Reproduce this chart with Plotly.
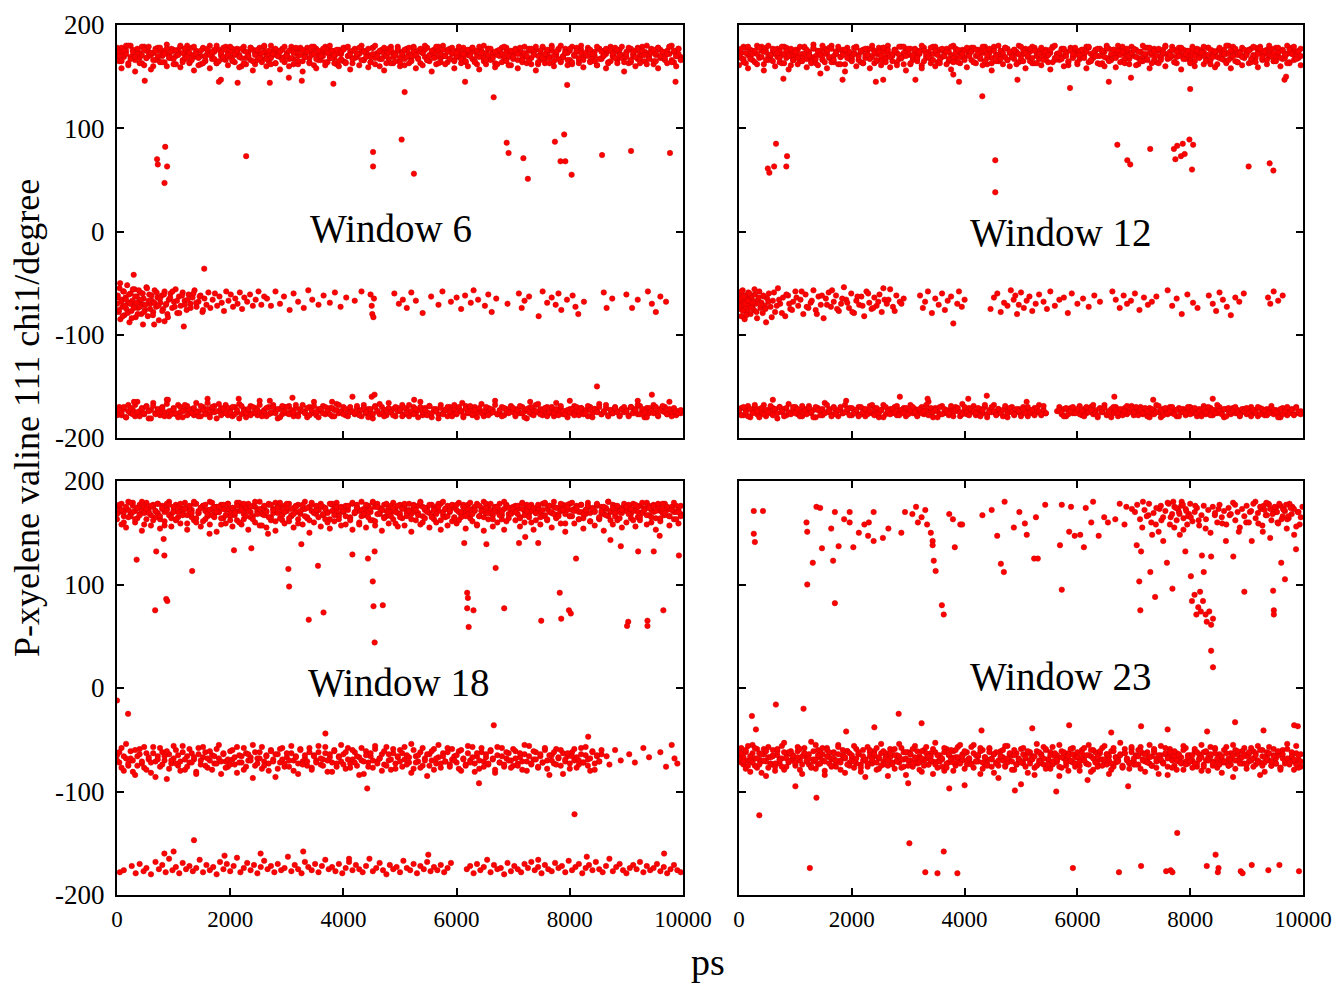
import plotly.graph_objects as go

# ---------------- shared time axis of the trajectory frames (ps) ----------------
TIME_PS = [0,40,80,120,160,200,240,280,320,360,400,440,480,520,560,600,640,680,720,760,800,840,880,920,960,
1000,1040,1080,1120,1160,1200,1240,1280,1320,1360,1400,1440,1480,1520,1560,1600,1640,1680,1720,1760,1800,1840,1880,1920,1960,
2000,2040,2080,2120,2160,2200,2240,2280,2320,2360,2400,2440,2480,2520,2560,2600,2640,2680,2720,2760,2800,2840,2880,2920,2960,
3000,3040,3080,3120,3160,3200,3240,3280,3320,3360,3400,3440,3480,3520,3560,3600,3640,3680,3720,3760,3800,3840,3880,3920,3960,
4000,4040,4080,4120,4160,4200,4240,4280,4320,4360,4400,4440,4480,4520,4560,4600,4640,4680,4720,4760,4800,4840,4880,4920,4960,
5000,5040,5080,5120,5160,5200,5240,5280,5320,5360,5400,5440,5480,5520,5560,5600,5640,5680,5720,5760,5800,5840,5880,5920,5960,
6000,6040,6080,6120,6160,6200,6240,6280,6320,6360,6400,6440,6480,6520,6560,6600,6640,6680,6720,6760,6800,6840,6880,6920,6960,
7000,7040,7080,7120,7160,7200,7240,7280,7320,7360,7400,7440,7480,7520,7560,7600,7640,7680,7720,7760,7800,7840,7880,7920,7960,
8000,8040,8080,8120,8160,8200,8240,8280,8320,8360,8400,8440,8480,8520,8560,8600,8640,8680,8720,8760,8800,8840,8880,8920,8960,
9000,9040,9080,9120,9160,9200,9240,9280,9320,9360,9400,9440,9480,9520,9560,9600,9640,9680,9720,9760,9800,9840,9880,9920,9960]

X_TICKS = [0, 2000, 4000, 6000, 8000, 10000]
X_TICK_TEXT = ["0", "2000", "4000", "6000", "8000", "10000"]
Y_TICKS = [-200, -100, 0, 100, 200]
Y_TICK_TEXT = ["-200", "-100", "0", "100", "200"]

# ============================ Window 6 ============================
w6_top_a = [172,165,178,169,175,161,180,170,166,176,173,163,179,168,174,171,160,177,167,175,170,164,181,172,168,
176,162,173,179,166,171,175,163,178,169,174,161,170,177,165,172,180,167,174,163,176,170,178,166,173,
169,177,164,175,171,160,179,168,173,166,176,162,172,178,167,174,170,165,180,171,163,175,169,177,164,
173,167,179,162,175,170,176,165,172,178,168,174,161,177,171,166,173,179,164,170,175,168,162,176,172,
165,178,170,174,163,177,169,172,180,166,175,171,164,178,168,173,160,176,170,174,167,179,163,171,175,
168,174,161,177,172,166,179,170,175,163,173,169,178,165,171,176,162,174,168,180,170,164,177,172,166,
175,169,173,178,164,171,176,167,174,162,179,170,165,173,177,168,172,163,175,170,178,166,174,169,161,
172,177,166,174,170,179,163,175,168,173,176,162,171,178,167,174,169,180,165,172,176,164,170,177,173,
166,179,171,174,163,176,169,172,178,165,173,170,161,177,168,175,172,164,179,170,174,166,176,171,168,
174,163,177,170,175,167,172,179,165,173,169,176,162,171,178,168,174,166,175,172,180,164,170,177,169]
w6_top_b = [166,174,158,171,180,163,169,176,155,172,168,179,161,175,170,157,173,166,178,164,171,175,160,168,177,
162,170,176,159,173,167,180,164,171,156,175,169,162,178,166,173,158,170,176,163,145,172,167,179,161,
174,165,171,177,159,168,175,162,170,178,156,173,166,171,164,179,160,172,168,175,163,170,157,176,169,
171,160,176,167,173,162,178,155,169,174,164,171,179,158,166,173,170,161,177,168,175,163,172,160,167,
178,164,170,157,175,168,172,161,176,166,173,159,169,178,162,171,167,174,156,170,177,163,173,165,179,
160,172,167,175,163,170,178,158,168,174,161,176,166,171,155,173,169,179,164,170,162,176,167,173,158,
170,176,163,169,174,160,172,178,165,170,157,175,168,162,177,166,173,159,171,175,164,169,178,161,172,
167,173,158,176,164,171,169,177,162,174,156,170,166,179,163,172,168,175,160,171,177,165,169,174,161,
175,162,170,178,166,173,159,171,176,164,169,174,161,177,167,172,158,175,165,170,178,163,171,168,155,
169,176,164,172,160,178,167,171,174,162,170,177,165,173,158,176,168,171,163,179,166,174,160,172,167]
w6_top_c = [178,170,165,175,172,180,167,174,169,177,163,171,176,168,179,173,166,175,170,178,164,172,177,169,174,
167,175,171,180,164,177,169,173,166,179,172,168,175,163,170,177,171,174,167,180,165,173,169,176,171,
179,166,172,175,169,177,163,174,170,178,165,171,176,168,173,180,167,175,162,172,177,170,174,166,179,
170,175,168,173,178,165,171,176,169,174,163,179,172,167,175,170,177,164,173,180,168,171,176,165,174,
176,163,179,171,167,175,172,178,166,174,169,177,164,172,180,170,175,167,178,163,173,176,169,171,177,
164,172,176,169,178,165,174,171,167,177,173,180,166,170,175,168,179,163,172,176,170,174,167,178,165,
173,179,167,172,165,176,170,178,164,175,169,173,180,166,171,177,168,174,162,176,172,179,165,170,175,
169,176,172,178,166,173,170,165,177,171,179,164,175,168,172,176,163,178,170,174,167,180,169,173,166,
177,164,171,175,168,180,166,173,170,176,172,165,179,167,174,170,177,163,175,172,168,176,171,179,164,
172,178,166,174,169,177,163,175,171,180,167,173,176,165,178,170,174,168,172,179,164,175,170,177,166]
w6_top_stray_t = [490,1836,2131,2700,3036,3265,3823,5082,6150,6655,7954,9868]
w6_top_stray_v = [146,147,144,144,149,146,143,135,145,130,142,145]
w6_out_t = [852,708,721,885,839,2282,4524,4524,5029,5246,6885,6918,7180,7259,7737,7901,7836,7921,8032,8570,9082,9770]
w6_out_v = [82,70,65,63,47,73,77,63,89,56,86,76,71,51,87,94,68,68,55,74,78,76]
w6_mid_t = [0,15,30,45,60,80,95,110,130,150,165,180,200,220,240,255,270,290,310,330,350,370,390,410,430,450,470,495,520,545,
570,590,615,640,665,690,715,740,765,790,815,840,865,890,915,945,975,1005,1035,1065,1095,1125,1160,1195,1230,1265,1300,1335,1370,1405,
1440,1475,1510,1545,1580,1615,1650,1690,1730,1770,1810,1850,1890,1930,1970,2010,2050,2090,2130,2170,2210,2250,2300,2350,2400,2450,2500,2550,2600,
10,35,55,75,100,120,140,160,190,210,230,260,280,300,320,345,365,385,405,425,455,480,505,530,560,585,610,635,660,700,
730,760,800,830,870,900,940,980,1020,1060,1100,1150,1200,1250,1300,1350,1400,1460,1520,
2650,2720,2800,2880,2950,3050,3120,3200,3300,3380,3450,3560,3650,3760,3850,3950,4050,4200,4320,4480,
4500,4510,4530,4540,4900,4980,5050,5120,5200,5280,5400,5550,5680,5750,5900,6000,6080,6150,6250,6300,
6380,6500,6560,6620,6700,6900,7100,7150,7200,7280,7450,7520,7600,7680,7750,7800,7850,7950,8050,8100,
8150,8250,8600,8650,8750,9000,9100,9200,9380,9450,9520,9600,9700,295,1541,1180,656,459,840]
w6_mid_v = [-70,-62,-78,-55,-85,-66,-73,-58,-81,-64,-75,-52,-69,-88,-60,-77,-67,-72,-56,-83,-63,-74,-68,-59,-80,-71,-65,-76,-54,-82,
-61,-70,-67,-78,-57,-73,-64,-86,-69,-62,-75,-58,-71,-80,-66,-60,-74,-68,-56,-79,-63,-72,-59,-67,-76,-61,-70,-64,-57,-73,
-68,-62,-78,-65,-71,-59,-74,-66,-60,-72,-63,-69,-77,-58,-67,-61,-73,-65,-70,-59,-75,-64,-68,-61,-72,-66,-58,-71,-63,
-64,-76,-50,-68,-82,-58,-72,-66,-79,-61,-70,-84,-56,-74,-63,-69,-80,-57,-73,-66,-60,-78,-71,-55,-67,-75,-62,-81,-69,-59,
-72,-65,-77,-61,-70,-83,-64,-58,-73,-67,-79,-62,-71,-66,-74,-60,-69,-63,-76,
-65,-72,-58,-70,-63,-76,-60,-68,-74,-57,-66,-71,-62,-69,-59,-73,-64,-67,-58,-61,
-72,-80,-83,-65,-60,-70,-66,-74,-59,-67,-79,-63,-71,-58,-68,-64,-75,-62,-69,-57,
-66,-72,-61,-78,-65,-70,-60,-74,-67,-63,-82,-58,-69,-64,-71,-60,-76,-66,-62,-73,
-80,-68,-59,-74,-65,-61,-74,-66,-58,-70,-78,-63,-68,-42,-36,-92,-90,-90,-87]
w6_low_a = [-175,-170,-178,-172,-180,-168,-176,-173,-179,-165,-174,-171,-177,-169,-181,-173,-166,-176,-172,-178,-170,-175,-163,-179,-174,
-171,-177,-168,-175,-180,-173,-169,-176,-172,-178,-166,-174,-179,-170,-175,-162,-177,-173,-169,-181,-174,-171,-176,-168,-178,
-173,-179,-170,-175,-167,-177,-172,-180,-174,-169,-176,-171,-178,-164,-175,-173,-179,-170,-176,-168,-174,-181,-172,-177,-170,
-176,-169,-174,-179,-171,-177,-173,-168,-175,-180,-170,-176,-165,-178,-172,-174,-169,-177,-175,-171,-179,-173,-167,-176,-174,
-170,-178,-173,-175,-160,-177,-171,-174,-179,-168,-176,-172,-175,-181,-169,-174,-177,-170,-173,-178,-166,-175,-172,-179,-171,
-174,-168,-177,-172,-179,-175,-170,-176,-173,-165,-178,-171,-175,-169,-180,-174,-172,-177,-168,-176,-173,-179,-170,-175,-172,
-177,-171,-174,-180,-169,-176,-173,-178,-170,-175,-172,-167,-179,-174,-171,-176,-173,-164,-177,-175,-170,-178,-172,-174,-169,
-175,-179,-172,-176,-170,-174,-181,-171,-177,-173,-168,-175,-172,-178,-174,-170,-176,-173,-179,-166,-175,-171,-177,-174,-180,
-172,-176,-169,-174,-178,-171,-175,-173,-179,-170,-176,-172,-174,-167,-177,-175,-171,-178,-173,-176,-170,-174,-179,-172,-175,
-173,-178,-170,-175,-172,-177,-169,-174,-180,-171,-176,-173,-168,-175,-179,-172,-174,-170,-177,-165,-175,-172,-178,-174,-176]
w6_low_b = [-178,-173,-176,-170,-180,-174,-171,-177,-168,-175,-179,-172,-176,-170,-174,-181,-169,-177,-173,-175,-171,-179,-167,-174,-177,
-172,-176,-180,-170,-174,-168,-178,-173,-176,-171,-175,-179,-169,-173,-177,-172,-180,-170,-175,-174,-167,-178,-172,-176,-171,
-175,-170,-177,-173,-181,-169,-174,-176,-172,-178,-170,-175,-173,-168,-179,-174,-171,-177,-175,-170,-176,-172,-180,-169,-174,
-170,-177,-173,-175,-168,-179,-172,-174,-176,-171,-178,-173,-169,-175,-180,-172,-176,-170,-174,-177,-171,-179,-173,-168,-175,
-177,-172,-179,-170,-174,-176,-169,-178,-173,-171,-175,-180,-172,-177,-170,-174,-167,-176,-179,-173,-171,-175,-178,-170,-174,
-173,-179,-171,-176,-168,-174,-177,-172,-180,-170,-175,-173,-178,-169,-176,-172,-174,-181,-171,-177,-173,-170,-175,-179,-168,
-176,-170,-174,-178,-172,-175,-169,-177,-173,-180,-171,-176,-174,-170,-178,-172,-175,-168,-177,-173,-179,-171,-174,-176,-170,
-171,-177,-173,-169,-176,-180,-172,-175,-170,-178,-174,-167,-177,-173,-171,-179,-175,-170,-176,-172,-178,-169,-174,-177,-173,
-175,-172,-178,-170,-174,-171,-177,-176,-169,-173,-180,-172,-175,-170,-177,-174,-168,-179,-173,-176,-171,-175,-178,-172,-170,
-174,-179,-170,-176,-173,-168,-177,-172,-175,-180,-171,-174,-176,-170,-178,-173,-169,-175,-177,-172,-179,-171,-174,-176,-173]
w6_low_extra_t = [300,900,1600,2150,2700,3100,3800,4500,4550,5250,6100,7300,8000,8480,9200,9450]
w6_low_extra_v = [-165,-163,-166,-162,-164,-161,-165,-160,-158,-163,-166,-165,-164,-150,-164,-158]

# ============================ Window 12 ============================
w12_top_a = [174,168,179,163,171,176,166,173,180,169,175,162,178,170,167,174,172,177,164,171,179,168,175,161,173,
170,176,165,172,178,167,174,169,181,163,175,171,166,177,173,168,180,164,172,176,169,174,162,178,170,
167,173,179,171,164,176,168,175,170,177,163,172,178,166,174,169,180,171,165,176,173,167,179,162,175,
171,177,166,173,168,175,161,178,170,174,167,172,179,164,176,169,173,177,165,171,180,168,174,163,176,
169,175,172,178,164,170,176,167,173,179,162,174,168,177,171,165,175,170,178,166,173,169,176,172,180,
165,172,177,169,174,163,178,171,167,175,170,176,164,173,179,168,172,166,177,170,174,161,178,169,175,
173,167,176,171,179,164,172,168,175,170,177,163,174,180,166,171,176,169,173,178,165,172,175,167,179,
170,176,162,174,169,178,166,173,171,177,164,175,168,172,180,167,174,170,176,163,178,171,169,175,172,
168,179,165,173,176,170,174,167,178,162,175,171,169,177,173,166,172,180,168,174,176,164,171,178,170,
175,163,177,171,168,174,179,166,172,176,169,173,165,178,170,175,167,172,180,164,176,171,174,168,177]
w12_top_b = [161,173,167,178,158,170,175,164,172,168,179,156,174,166,171,177,160,169,175,163,172,178,157,170,166,
176,162,171,168,179,159,173,165,177,170,161,175,167,172,158,178,164,170,174,162,169,176,155,173,167,
170,178,160,166,174,163,171,177,158,169,175,165,172,161,178,167,173,159,170,176,164,171,168,179,156,
174,162,169,177,165,172,158,175,168,171,163,179,160,173,166,176,170,162,174,157,168,177,164,172,169,
175,159,171,166,178,163,170,174,161,176,168,173,156,179,165,171,175,162,169,177,160,173,167,174,164,
168,176,158,172,165,179,163,170,175,161,174,167,171,157,178,166,172,169,176,160,173,164,177,168,171,
162,175,169,173,158,178,165,171,176,163,170,174,160,168,177,166,172,159,175,164,179,167,170,162,173,
177,161,168,174,165,171,178,158,173,166,175,163,170,176,160,172,168,179,164,169,174,157,176,167,171,
165,173,160,177,169,174,162,171,178,166,172,159,175,168,170,176,163,173,158,179,165,171,174,161,168,
172,176,164,170,178,159,173,167,175,162,171,177,165,169,174,160,176,168,172,163,178,166,170,175,161]
w12_top_c = [170,177,164,173,179,167,172,175,162,178,169,174,166,180,171,165,176,173,168,179,163,175,170,177,166,
174,168,179,165,172,176,170,163,178,167,174,171,180,164,175,169,177,166,173,179,162,171,176,168,174,
165,172,178,169,175,163,177,171,167,180,173,166,174,170,178,164,176,169,172,175,161,179,168,173,170,
177,163,171,176,168,174,180,165,172,169,178,166,175,171,163,177,170,174,167,179,164,173,176,169,172,
166,178,170,174,164,176,172,168,179,165,171,177,163,175,170,180,167,173,178,166,174,169,176,162,172,
179,165,173,170,177,168,175,163,172,178,166,174,171,176,164,180,169,173,167,177,170,165,175,172,178,
164,171,176,168,174,179,166,173,170,177,162,175,169,178,165,172,176,168,180,171,174,163,177,170,173,
176,169,174,165,180,172,167,178,163,175,170,177,166,173,179,168,171,176,164,174,170,178,167,172,175,
163,177,170,175,168,173,179,165,171,176,169,174,162,178,167,172,180,166,175,170,177,164,173,169,176,
171,175,167,179,164,172,177,169,174,166,180,170,173,165,178,168,175,171,163,176,172,179,167,174,170]
w12_top_stray_t = [787,1836,2426,2557,3128,3901,4314,4937,5869,6557,6950,8000,9672,3800,1443,9700]
w12_top_stray_v = [148,147,145,147,147,145,131,147,139,145,149,138,147,152,153,150]
w12_out_t = [656,852,511,538,623,839,4544,4544,6708,6885,6937,7291,7711,7770,7868,7986,8052,7737,7836,7901,8032,9036,9409,9475]
w12_out_v = [85,73,61,57,63,63,69,38,84,69,65,80,80,83,85,89,84,70,73,75,60,63,66,59]
w12_mid_t = [0,10,20,30,40,55,65,75,90,100,115,125,140,150,165,180,190,205,220,235,250,265,280,300,320,340,360,380,400,420,440,460,480,500,
530,560,600,640,690,730,780,820,870,910,960,1000,1050,1090,1140,1180,1230,1270,1320,1360,1410,1450,1500,1540,1590,1630,
1680,1720,1770,1810,1860,1900,1950,1990,2040,2080,2130,2170,2220,2260,2310,2350,2400,2440,2490,2530,2580,2620,2680,2730,2790,2850,2920,
5,25,45,70,85,110,130,160,185,215,245,275,310,350,390,430,470,520,580,620,670,710,760,840,890,940,1020,1110,1200,1290,
1380,1470,1560,1650,1740,1830,1920,2010,2100,2190,2290,2380,2470,2560,2650,2760,2880,
3210,3260,3300,3350,3420,3480,3540,3600,3650,3700,3760,3800,3870,3900,3950,4000,
4460,4520,4580,4640,4700,4760,4820,4870,4900,4930,4960,5000,5050,5100,5150,5200,5260,5320,5400,5460,
5520,5600,5680,5760,5830,5900,6000,6100,6200,6300,6400,
6620,6680,6750,6820,6880,6950,7020,7100,7180,7250,7320,7400,
7600,7680,7760,7850,7950,8050,8130,8330,8400,8460,8520,8580,8650,8720,8800,8870,8950,9380,9420,9480,9560,9640]
w12_mid_v = [-68,-60,-75,-64,-82,-70,-57,-72,-66,-85,-62,-74,-69,-78,-59,-71,-65,-80,-63,-73,-67,-76,-61,-70,-84,-66,-58,-74,-69,-79,-63,-72,-88,-65,
-60,-73,-67,-78,-55,-70,-64,-82,-62,-75,-68,-58,-72,-66,-80,-61,-74,-69,-57,-76,-63,-71,-84,-65,-59,-73,
-68,-62,-77,-70,-54,-66,-74,-60,-79,-67,-71,-63,-82,-58,-69,-75,-64,-72,-61,-78,-66,-70,-56,-73,-62,-68,-65,
-72,-65,-58,-77,-63,-70,-81,-67,-60,-74,-69,-56,-78,-64,-71,-62,-75,-68,-83,-59,-72,-66,-79,-61,-70,-76,-64,-58,-73,-67,
-80,-62,-71,-57,-75,-65,-69,-78,-63,-72,-60,-74,-68,-55,-66,-77,-70,
-62,-74,-68,-58,-79,-65,-71,-60,-76,-67,-63,-89,-70,-58,-73,-66,
-75,-64,-60,-78,-69,-72,-57,-66,-62,-80,-71,-59,-74,-67,-63,-77,-70,-61,-68,-75,
-58,-72,-66,-64,-79,-60,-70,-65,-73,-62,-68,
-58,-66,-74,-62,-70,-67,-60,-76,-64,-71,-68,-63,
-57,-72,-65,-80,-61,-69,-74,-62,-70,-77,-59,-66,-73,-81,-64,-68,-60,-64,-70,-58,-67,-62]
w12_low_a = [-176,-171,-178,-173,-169,-180,-174,-170,-177,-172,-175,-168,-179,-173,-176,-171,-174,-181,-170,-175,-172,-178,-167,-176,-173,
-170,-177,-174,-179,-172,-175,-169,-176,-173,-180,-171,-174,-178,-166,-175,-172,-177,-170,-174,-179,-173,-176,-168,-175,-171,
-178,-173,-175,-170,-177,-172,-179,-174,-169,-176,-171,-175,-180,-173,-168,-177,-174,-172,-176,-170,-178,-173,-175,-171,-179,
-174,-168,-176,-172,-178,-175,-170,-177,-173,-165,-175,-180,-171,-174,-177,-169,-176,-173,-178,-172,-175,-170,-174,-179,-167,
-173,-177,-171,-175,-169,-178,-174,-172,-176,-170,-180,-173,-175,-168,-177,-172,-174,-179,-171,-176,-173,-170,-178,-175,-172,
-177,-170,-174,-179,-173,-176,-171,-175,-168,-178,-173,-176,None,None,None,None,-174,-170,-177,-172,-179,-174,-171,-176,-173,
-175,-169,-178,-172,-176,-174,-170,-177,-173,-180,-171,-175,-168,-178,-174,-172,-176,-170,-179,-173,-175,-171,-177,-174,-169,
-178,-172,-175,-170,-177,-174,-179,-171,-176,-173,-168,-175,-180,-172,-174,-177,-170,-176,-173,-179,-171,-175,-172,-178,-174,
-170,-176,-173,-179,-172,-175,-169,-177,-174,-171,-178,-173,-176,-170,-175,-180,-172,-174,-177,-171,-176,-173,-179,-175,-172,
-177,-174,-170,-176,-173,-179,-171,-175,-178,-172,-174,-169,-177,-173,-176,-180,-171,-175,-178,-174,-172,-177,-170,-176,-174]
w12_low_b = [-173,-178,-170,-175,-179,-172,-176,-168,-174,-180,-171,-177,-173,-175,-169,-178,-172,-176,-170,-174,-179,-171,-175,-177,-170,
-176,-172,-179,-169,-174,-177,-171,-175,-180,-170,-173,-178,-172,-176,-168,-174,-179,-171,-177,-173,-170,-176,-175,-172,-178,
-171,-176,-173,-179,-170,-175,-172,-177,-174,-168,-178,-171,-176,-173,-180,-170,-174,-177,-172,-175,-169,-178,-173,-176,-171,
-177,-173,-170,-175,-179,-172,-176,-174,-168,-178,-171,-175,-173,-180,-170,-177,-172,-174,-176,-169,-179,-173,-171,-175,-177,
-170,-175,-178,-172,-174,-176,-171,-179,-173,-168,-177,-175,-170,-174,-178,-172,-176,-173,-169,-180,-171,-175,-177,-172,-174,
-179,-172,-176,-170,-175,-173,-178,-171,-174,-177,-169,-176,None,None,None,None,None,-173,-175,-179,-171,-177,-174,-170,-176,
-172,-177,-174,-179,-170,-175,-173,-168,-176,-178,-172,-174,-171,-177,-175,-180,-170,-173,-176,-172,-178,-174,-169,-175,-171,
-175,-170,-178,-173,-176,-171,-174,-180,-172,-177,-175,-169,-173,-178,-171,-176,-174,-170,-177,-173,-179,-172,-175,-176,-170,
-177,-173,-171,-176,-174,-179,-172,-175,-170,-178,-173,-176,-168,-174,-177,-172,-179,-171,-175,-173,-170,-176,-178,-172,-174,
-171,-176,-179,-173,-175,-170,-177,-172,-174,-178,-176,-171,-173,-175,-180,-172,-177,-174,-170,-176,-173,-178,-171,-175,-177]
w12_low_extra_t = [2852,3344,4065,4393,6655,7344,600,1900,5100,8400]
w12_low_extra_v = [-160,-162,-162,-159,-160,-163,-163,-164,-165,-162]

# ============================ Window 18 ============================
w18_top_a = [175,170,178,166,173,180,168,176,171,164,177,172,169,179,174,167,175,171,178,163,176,170,173,180,168,
172,177,165,174,170,179,167,175,172,162,178,169,174,176,171,166,180,173,168,175,170,177,164,172,178,
169,174,167,179,171,176,163,173,178,170,166,175,172,180,168,174,171,177,165,173,179,169,175,162,176,
171,178,166,174,170,177,168,173,180,164,175,171,169,176,172,178,167,174,170,163,177,173,179,168,175,
170,176,172,165,178,169,174,171,180,167,173,176,170,162,175,178,168,172,177,166,174,170,179,173,169,
177,164,175,171,178,168,173,170,176,180,166,172,174,169,177,163,175,171,178,167,173,176,170,174,165,
172,179,168,175,170,177,164,173,171,178,166,174,180,169,176,172,167,175,170,178,163,173,177,168,174,
170,176,173,165,179,171,174,168,177,172,162,175,170,178,167,173,176,169,180,165,174,171,177,168,172,
178,166,173,175,170,177,164,172,179,169,174,171,176,163,175,168,173,180,170,177,166,172,174,169,176,
171,175,168,178,173,165,176,170,174,179,167,172,177,164,175,171,169,178,173,166,174,170,176,172,168]
w18_top_b = [163,176,158,170,155,172,166,179,160,174,168,152,175,163,171,157,177,165,169,154,173,161,178,167,156,
170,162,175,159,168,174,153,171,165,178,160,169,156,176,163,172,158,167,175,151,170,164,177,159,173,
166,156,171,162,179,158,168,174,153,165,176,160,170,157,173,167,155,178,162,169,152,175,164,171,159,
174,161,167,155,176,163,170,158,173,165,150,177,160,168,172,156,175,163,169,154,178,161,171,166,157,
171,158,175,164,153,169,177,160,166,173,155,170,162,179,157,168,174,152,165,171,159,176,163,170,156,
168,174,157,166,172,151,177,162,169,158,175,164,171,155,167,173,160,178,153,170,165,157,174,161,176,
159,170,165,177,154,168,172,161,175,157,166,171,152,178,163,169,156,174,160,172,167,153,176,164,170,
175,162,168,156,173,160,177,165,171,153,169,174,158,166,178,162,170,155,175,164,168,159,173,151,177,
166,172,159,176,163,170,154,168,175,161,173,157,177,164,169,152,174,166,171,158,176,162,170,155,174,
160,177,164,171,156,175,162,169,173,158,176,165,170,153,174,161,178,167,172,157,175,163,170,159,166]
w18_top_c = [168,177,172,160,175,165,179,170,163,174,167,180,158,173,169,176,162,171,178,166,174,157,172,177,164,
175,163,170,178,167,173,159,176,169,180,164,171,174,161,177,168,172,179,165,170,175,158,173,167,178,
162,174,169,176,160,172,178,166,171,175,163,180,168,173,157,176,170,165,177,172,161,174,179,167,170,
178,164,173,168,175,159,171,177,166,174,162,179,170,172,165,176,168,173,160,178,171,167,175,163,174,
171,166,176,162,179,170,174,158,172,168,177,165,173,180,161,175,169,172,164,178,170,166,174,159,176,
165,173,178,169,171,163,176,172,167,179,160,174,170,177,165,172,168,175,162,180,173,166,171,177,164,
177,162,170,175,166,173,179,168,172,158,176,171,165,174,169,178,163,172,175,167,170,180,161,174,168,
173,170,176,164,178,167,171,175,160,174,169,177,165,172,179,163,176,170,168,174,166,178,172,159,175,
166,179,171,174,163,177,168,172,176,161,173,170,178,165,171,175,167,180,162,174,169,176,164,172,178,
175,168,173,162,177,170,165,179,172,167,174,160,176,171,178,164,173,169,175,166,172,179,163,170,176]
w18_out_t = [347,693,837,1328,824,1635,2067,2374,2668,3028,3041,3257,3551,4159,4434,4552,4519,6690,6527,6135,
7103,7213,7442,8110,8718,8901,9208,9483,9588,9928,
674,870,889,3388,3649,4532,4696,4552,6187,6200,6187,6298,6213,6841,7822,7495,7848,7985,8018,9032,9372,9372,9012,9653,
0,196]
w18_out_v = [124,132,128,113,144,149,133,135,149,115,98,139,118,129,125,132,103,116,139,140,
140,146,140,125,143,137,132,132,147,128,
75,86,84,66,73,79,80,44,92,87,77,75,59,77,92,65,67,75,72,64,65,60,60,75,
-12,-25]
w18_mid_a = [-65,-72,-58,-80,-68,-75,-61,-70,-84,-66,-59,-73,-77,-63,-69,-82,-57,-71,-66,-76,-62,-70,-88,-64,-73,
-68,-60,-75,-71,-56,-79,-66,-72,-63,-69,-81,-58,-74,-67,-62,-77,-70,-65,-73,-59,-68,-83,-64,-71,-76,
-61,-69,-74,-57,-72,-66,-79,-63,-70,-67,-55,-75,-68,-62,-78,-71,-65,-73,-60,-69,-86,-64,-72,-58,-76,
-67,-70,-63,-80,-66,-73,-59,-71,-68,-75,-62,-77,-65,-70,-56,-74,-69,-63,-81,-67,-72,-60,-76,-66,-71,
-64,-78,-58,-73,-69,-62,-75,-67,-70,-83,-61,-72,-66,-77,-59,-71,-68,-64,-74,-57,-70,-79,-63,-73,-67,
-60,-76,-69,-65,-72,-54,-78,-66,-71,-62,-75,-68,-85,-64,-70,-59,-73,-67,-77,-63,-71,-58,-74,-69,-66,
-72,-61,-80,-68,-75,-63,-70,-57,-73,-66,-78,-62,-71,-67,-74,-60,-69,-82,-65,-72,-58,-76,-68,-63,-70,
-75,-61,-73,-67,-79,-64,-71,-56,-74,-69,-62,-77,-66,-72,-60,-70,-84,-65,-73,-59,-68,-75,-63,-71,-66,
-78,-62,-70,-67,-74,-58,-72,-65,-69,-80,-61,-73,-66,-71,-64]
w18_mid_b = [-70,-62,-77,-66,-54,-73,-68,-81,-60,-75,-64,-71,-57,-79,-67,-72,-63,-86,-69,-58,-74,-66,-61,-78,-70,
-56,-73,-65,-80,-62,-69,-76,-59,-72,-67,-83,-64,-70,-57,-75,-68,-61,-79,-66,-73,-55,-71,-63,-77,-69,
-74,-60,-67,-82,-65,-72,-58,-76,-64,-70,-87,-62,-73,-68,-57,-75,-66,-80,-61,-71,-64,-78,-59,-69,-73,
-63,-76,-56,-70,-67,-83,-60,-74,-65,-71,-58,-79,-66,-72,-62,-68,-75,-57,-70,-64,-81,-61,-73,-67,-55,
-74,-62,-69,-77,-60,-72,-66,-84,-58,-71,-65,-76,-63,-70,-56,-73,-68,-80,-61,-75,-64,-69,-59,-78,-66,
-71,-63,-57,-74,-67,-82,-60,-72,-65,-77,-58,-70,-64,-75,-61,-79,-68,-55,-73,-66,-71,-62,-76,-59,-70,
-65,-78,-60,-69,-74,-56,-72,-67,-81,-63,-70,-58,-76,-64,-73,-61,-68,-79,-57,-72,-66,-74,-62,-70,-77,
-59,-68,-75,-63,-71,-55,-80,-66,-73,-61,-69,-76,-64,-72,-58,-78,-65,-70,-62,-74,-67,-60,-83,-69,-63,
-73,-66,-59,-77,-70,-64,-72,-57,-75,-68,-62,-79,-65,-71,-60]
w18_mid_extra_t = [8650,8700,8800,8900,9050,9150,9300,9400,9600,9700,9800,9850,9900,4421,6396,8083,6657,3682,8325]
w18_mid_extra_v = [-66,-74,-60,-70,-64,-72,-58,-67,-62,-76,-55,-68,-73,-97,-92,-122,-36,-44,-47]
w18_low_t = [50,120,260,330,400,470,520,600,680,740,800,860,920,980,1040,1100,1160,1220,1280,1340,
1400,1460,1520,1580,1640,1700,1760,1820,1880,1940,2000,2060,2120,2180,2240,2300,2360,2420,2480,2540,
2600,2660,2720,2780,2840,2900,2960,3020,3080,3140,3200,3260,3320,3380,3440,3500,3560,3620,3680,3740,
3800,3860,3920,3980,4040,4100,4160,4220,4280,4340,4400,4460,4520,4580,4640,4700,4760,4820,4880,4940,
5000,5060,5120,5180,5240,5300,5360,5420,5480,5540,5600,5660,5720,5780,5840,5900,6180,6240,6300,6360,
6420,6480,6540,6600,6660,6720,6780,6840,6900,6960,7020,7080,7140,7200,7260,7320,7380,7440,7500,7560,
7620,7680,7740,7800,7860,7920,7980,8040,8100,8160,8220,8280,8340,8400,8460,8520,8580,8640,8700,8760,
8820,8880,8940,9000,9060,9120,9180,9240,9300,9360,9420,9480,9540,9600,9660,9720,9780,9840,9900,9960,
1360,837,1000,2537,3290,9666,7442,1900,4100,5500,8300]
w18_low_v = [-178,-176,-172,-179,-170,-177,-174,-180,-168,-175,-171,-178,-165,-176,-173,-179,-169,-175,-172,-177,
-174,-166,-178,-171,-176,-173,-180,-168,-175,-170,-177,-172,-164,-178,-174,-169,-176,-171,-179,-173,
-167,-175,-172,-178,-170,-176,-174,-163,-177,-171,-175,-179,-168,-173,-176,-170,-178,-172,-166,-175,
-173,-177,-170,-179,-174,-168,-176,-171,-175,-178,-172,-165,-177,-174,-169,-176,-180,-171,-175,-173,
-178,-167,-174,-176,-170,-179,-172,-175,-168,-177,-173,-176,-171,-178,-174,-169,-175,-172,-179,-170,
-176,-173,-166,-178,-171,-175,-174,-180,-169,-177,-172,-175,-178,-170,-174,-168,-176,-173,-179,-171,
-175,-177,-169,-174,-172,-178,-167,-176,-173,-170,-179,-174,-171,-176,-168,-175,-178,-172,-165,-177,
-173,-170,-176,-179,-174,-171,-175,-168,-178,-172,-176,-174,-170,-177,-173,-179,-175,-171,-176,-178,
-147,-160,-158,-160,-158,-160,-166,-162,-165,-161,-163]

# ============================ Window 23 ============================
w23_mid_a = [-66,-58,-74,-62,-70,-81,-55,-68,-77,-63,-71,-59,-85,-67,-73,-60,-76,-65,-69,-56,-79,-64,-72,-61,-68,
-75,-57,-70,-83,-63,-66,-74,-52,-71,-78,-60,-67,-64,-80,-58,-73,-69,-62,-76,-55,-70,-65,-82,-61,-72,
-68,-77,-59,-64,-74,-70,-86,-57,-66,-73,-61,-79,-68,-54,-71,-63,-75,-67,-60,-78,-65,-72,-58,-69,-84,
-62,-70,-76,-56,-73,-66,-81,-60,-68,-74,-63,-71,-53,-77,-65,-69,-80,-59,-72,-67,-61,-75,-57,-70,-64,
-78,-62,-68,-73,-55,-71,-66,-83,-60,-74,-69,-58,-76,-64,-72,-87,-61,-67,-75,-56,-70,-65,-79,-63,-71,
-59,-73,-68,-82,-62,-66,-77,-54,-70,-64,-74,-60,-69,-78,-57,-72,-65,-85,-61,-68,-75,-63,-71,-58,-76,
-67,-80,-60,-70,-73,-55,-66,-79,-62,-74,-69,-58,-72,-64,-83,-61,-76,-67,-70,-53,-75,-63,-68,-78,-59,
-71,-65,-74,-57,-69,-81,-62,-73,-66,-60,-77,-70,-56,-72,-64,-84,-59,-68,-75,-63,-71,-67,-79,-58,-73,
-65,-70,-61,-76,-68,-55,-74,-62,-80,-66,-71,-59,-77,-64,-69,-72,-57,-75,-63,-86,-60,-70,-67,-73,-58,
-78,-64,-69,-61,-74,-56,-72,-66,-81,-62,-70,-75,-59,-68,-65,-77,-60,-73,-54,-71,-67,-79,-63,-69,-76]
w23_mid_b = [-60,-72,-67,-78,-56,-70,-63,-75,-59,-69,-82,-64,-71,-57,-74,-66,-80,-61,-73,-68,-53,-76,-62,-70,-65,
-73,-61,-79,-66,-58,-71,-64,-77,-69,-55,-74,-62,-70,-84,-60,-67,-76,-63,-72,-57,-79,-65,-68,-61,-75,
-70,-56,-73,-64,-81,-60,-69,-76,-62,-71,-66,-58,-78,-63,-74,-67,-85,-59,-72,-65,-70,-54,-77,-62,-68,
-75,-64,-59,-72,-68,-79,-61,-70,-57,-74,-66,-83,-62,-71,-69,-76,-58,-73,-65,-60,-80,-67,-72,-55,-70,
-63,-74,-69,-57,-77,-65,-71,-61,-78,-67,-73,-59,-68,-82,-62,-75,-66,-70,-56,-72,-64,-79,-60,-74,-68,
-71,-58,-76,-63,-70,-67,-84,-61,-73,-65,-57,-78,-69,-62,-74,-66,-71,-55,-77,-64,-70,-80,-59,-72,-67,
-62,-75,-68,-58,-73,-65,-81,-60,-71,-76,-63,-69,-56,-74,-66,-79,-61,-72,-68,-64,-77,-59,-70,-73,-57,
-74,-66,-60,-78,-63,-71,-69,-55,-75,-62,-68,-83,-65,-72,-58,-76,-64,-70,-61,-79,-67,-73,-56,-71,-65,
-69,-77,-59,-73,-64,-80,-62,-70,-67,-57,-75,-63,-72,-66,-82,-60,-71,-68,-74,-55,-78,-64,-69,-61,-73,
-66,-71,-58,-76,-63,-70,-84,-60,-72,-67,-57,-75,-65,-73,-62,-79,-68,-70,-59,-74,-66,-71,-56,-77,-64]
w23_mid_c = [-69,-63,-71,-60,-75,-66,-72,-58,-68,-74,-64,-70,-61,-77,-67,-65,-73,-59,-70,-76,-62,-68,-71,-64,-66,
-72,-67,-59,-74,-63,-70,-68,-76,-61,-69,-65,-73,-58,-71,-66,-62,-75,-68,-70,-64,-72,-60,-67,-74,-63,
-65,-71,-68,-62,-77,-66,-70,-73,-60,-69,-64,-72,-67,-75,-61,-68,-70,-63,-74,-59,-71,-66,-69,-76,-62,
-70,-64,-73,-67,-61,-72,-68,-75,-63,-66,-70,-59,-74,-65,-71,-68,-62,-77,-64,-69,-72,-60,-67,-73,-66,
-61,-70,-68,-74,-63,-71,-65,-58,-72,-67,-75,-62,-69,-64,-73,-70,-66,-60,-76,-68,-63,-71,-65,-74,-69,
-72,-64,-67,-61,-73,-69,-66,-75,-62,-70,-68,-59,-74,-65,-71,-63,-69,-76,-67,-62,-72,-66,-70,-64,-73,
-67,-71,-63,-70,-65,-74,-60,-68,-72,-66,-61,-75,-69,-64,-70,-73,-58,-67,-71,-65,-76,-63,-69,-72,-62,
-68,-74,-66,-61,-70,-64,-72,-67,-75,-59,-71,-65,-69,-73,-63,-68,-62,-77,-66,-70,-64,-72,-60,-74,-67,
-71,-65,-73,-62,-69,-67,-76,-61,-70,-64,-72,-58,-68,-74,-66,-71,-63,-75,-69,-65,-70,-61,-73,-67,-64,
-74,-62,-70,-68,-65,-72,-60,-75,-67,-69,-63,-71,-66,-73,-61,-77,-64,-70,-68,-72,-62,-69,-74,-65,-71]
w23_mid_out_t = [654,1144,229,2831,3237,1373,360,3728,4892,5625,6900,6180,7129,5854,9908,9843,8796,300,1900,2400,
4300,5200,6600,7600,8300,9300,1000,3000,4000,5000]
w23_mid_out_v = [-16,-20,-27,-25,-34,-106,-123,-97,-99,-100,-95,-89,-37,-36,-37,-36,-33,-40,-42,-38,
-41,-39,-43,-40,-42,-41,-95,-92,-94,-93]
w23_low_t = [1256,3021,3630,3303,3519,3872,5920,6737,7129,7574,7653,7685,7770,8294,8450,8490,8502,8896,8929,9091,9386,9582,9929]
w23_low_v = [-174,-150,-158,-178,-179,-179,-174,-178,-172,-177,-176,-178,-140,-172,-161,-178,-174,-177,-179,-171,-176,-171,-177]
w23_top_t = [262,425,262,281,1197,1210,1308,1210,1373,1439,1471,1635,1700,1700,1668,1766,1864,1962,1962,2027,
2125,2223,2289,2302,2387,2387,2551,2649,2878,2943,3074,3139,3172,3237,3303,3335,3401,3433,3453,3486,
3433,3597,3630,3728,3793,3826,3924,3956,4316,4480,4578,4643,4696,4709,4873,4971,5069,5102,5233,5298,
5265,5429,5723,5691,5723,5854,5887,5952,6050,6115,6148,6246,6278,6377,6475,6541,6672,6750,6835,6868,
6966,7051,7097,7116,7129,7162,7260,7293,7325,7378,7391,7456,7489,7522,7587,7620,7653,7685,7718,7783,
7816,7849,7881,7914,7947,7979,8012,8031,8077,8110,8143,8175,8188,8227,8240,8273,8293,8338,8371,8404,
8371,8404,8208,8273,8371,8437,8502,8567,8633,8698,8764,8796,8862,8960,8993,9058,9091,9156,9208,9255,
9287,9340,9386,9418,9470,9483,9483,9516,9549,9614,9680,9647,9712,9745,9811,9843,9876,9908,9941,
7020,7060,7110,7150,7190,7230,7270,7310,7350,7400,7440,7480,7520,7560,7600,7640,7680,7720,7760,7800,
7840,7880,7920,7960,8000,8040,8080,8120,8160,8200,8240,8280,8320,8360,8400,8440,8480,8520,8560,8600,
8640,8680,8720,8760,8800,8840,8880,8920,8960,9000,9040,9080,9120,9160,9200,9240,9280,9320,9360,9400,
9440,9480,9520,9560,9600,9640,9680,9720,9760,9800,9840,9880,9920,9960,9990,
7700,7750,7810,7870,7930,8010,8090,8150,9300,9350,9420,9460,9500,9540,9580,9620,9660,9700,9740,9780]
w23_top_v = [171,171,149,141,160,151,121,100,175,174,135,154,170,82,123,137,163,170,160,136,
150,158,147,160,170,142,145,154,150,170,168,175,160,165,172,158,150,142,123,113,
138,80,71,168,163,136,158,158,167,172,147,120,112,180,155,170,159,148,125,125,
165,177,95,138,177,151,175,147,148,136,174,160,180,147,165,160,163,178,158,175,
173,138,103,75,132,180,167,112,148,88,158,173,162,142,121,178,165,96,155,173,
148,180,164,132,158,168,108,84,90,71,78,93,74,84,112,71,64,74,61,67,
36,20,128,154,127,167,173,159,142,167,127,177,151,93,160,170,142,180,159,173,
151,167,178,145,94,75,71,170,160,121,105,173,154,164,175,148,134,170,158,
170,177,163,155,172,166,178,160,169,174,151,176,165,171,179,158,168,175,162,170,
176,153,173,166,178,161,170,174,157,167,176,163,172,150,175,169,160,177,165,171,
158,174,168,179,162,170,155,173,166,176,160,171,178,164,169,175,157,172,167,177,
162,170,174,159,176,166,171,163,178,168,173,156,170,165,175,
180,174,168,177,171,165,176,162,176,179,173,168,175,170,178,163,172,177,166,174]

# ---------------------------------------------------------------------------------
PANELS = [
    ("", [(TIME_PS, w6_top_a), (TIME_PS, w6_top_b), (TIME_PS, w6_top_c), (w6_top_stray_t, w6_top_stray_v),
          (w6_out_t, w6_out_v), (w6_mid_t, w6_mid_v), (TIME_PS, w6_low_a), (TIME_PS, w6_low_b),
          (w6_low_extra_t, w6_low_extra_v)]),
    ("2", [(TIME_PS, w12_top_a), (TIME_PS, w12_top_b), (TIME_PS, w12_top_c), (w12_top_stray_t, w12_top_stray_v),
           (w12_out_t, w12_out_v), (w12_mid_t, w12_mid_v), (TIME_PS, w12_low_a), (TIME_PS, w12_low_b),
           (w12_low_extra_t, w12_low_extra_v)]),
    ("3", [(TIME_PS, w18_top_a), (TIME_PS, w18_top_b), (TIME_PS, w18_top_c), (w18_out_t, w18_out_v),
           (TIME_PS[:len(w18_mid_a)], w18_mid_a), (TIME_PS[:len(w18_mid_b)], w18_mid_b),
           (w18_mid_extra_t, w18_mid_extra_v), (w18_low_t, w18_low_v)]),
    ("4", [(TIME_PS, w23_mid_a), (TIME_PS, w23_mid_b), (TIME_PS, w23_mid_c), (w23_mid_out_t, w23_mid_out_v),
           (w23_low_t, w23_low_v), (w23_top_t, w23_top_v)]),
]
LABELS = ["Window 6", "Window 12", "Window 18", "Window 23"]
LABEL_POS = [(4840, 3), (5710, -1), (4980, 5), (5710, 11)]

fig = go.Figure()
for suffix, series in PANELS:
    for xs, ys in series:
        n = min(len(xs), len(ys))
        fig.add_trace(go.Scatter(
            x=xs[:n], y=ys[:n], mode="markers",
            marker=dict(size=5.5, color="#ff0000", symbol="circle", line=dict(width=0.5, color="#c80000")),
            xaxis="x" + suffix, yaxis="y" + suffix, showlegend=False, hoverinfo="skip"))

W, H = 1339, 986
xdom_left = [117 / W, 683 / W]
xdom_right = [739 / W, 1303 / W]
ydom_top = [1 - 438 / H, 1 - 25 / H]
ydom_bot = [1 - 895 / H, 1 - 481 / H]

FONT = "Liberation Serif, Times New Roman, serif"

def xax(domain, anchor, labels):
    return dict(domain=domain, anchor=anchor, range=[0, 10000], tickvals=X_TICKS, ticktext=X_TICK_TEXT,
                showticklabels=labels, ticks="inside", ticklen=7, tickwidth=2, tickcolor="black",
                showline=True, linewidth=2, linecolor="black", mirror="ticks", showgrid=False, zeroline=False,
                automargin=False, tickfont=dict(family=FONT, size=23, color="black"), ticklabelstandoff=2)

def yax(domain, anchor, labels):
    return dict(domain=domain, anchor=anchor, range=[-200, 200], tickvals=Y_TICKS, ticktext=Y_TICK_TEXT,
                showticklabels=labels, ticks="inside", ticklen=7, tickwidth=2, tickcolor="black",
                showline=True, linewidth=2, linecolor="black", mirror="ticks", showgrid=False, zeroline=False,
                automargin=False, tickfont=dict(family=FONT, size=27, color="black"), ticklabelstandoff=5)

annotations = []
for i, (lab, (lx, ly)) in enumerate(zip(LABELS, LABEL_POS)):
    suf = "" if i == 0 else str(i + 1)
    annotations.append(dict(text=lab, x=lx, y=ly, xref="x" + suf, yref="y" + suf, showarrow=False,
                            xanchor="center", yanchor="middle",
                            font=dict(family=FONT, size=39, color="black")))
annotations.append(dict(text="P-xyelene valine 111 chi1/degree", x=27 / W, y=1 - 418 / H, xref="paper", yref="paper",
                        xanchor="center", yanchor="middle",
                        textangle=-90, showarrow=False, font=dict(family=FONT, size=36, color="black")))
annotations.append(dict(text="ps", x=708 / W, y=1 - 962 / H, xref="paper", yref="paper",
                        xanchor="center", yanchor="middle",
                        showarrow=False, font=dict(family=FONT, size=38, color="black")))

fig.update_layout(
    width=W, height=H, margin=dict(l=0, r=0, t=0, b=0, autoexpand=False),
    paper_bgcolor="white", plot_bgcolor="white", showlegend=False,
    xaxis=xax(xdom_left, "y", False), yaxis=yax(ydom_top, "x", True),
    xaxis2=xax(xdom_right, "y2", False), yaxis2=yax(ydom_top, "x2", False),
    xaxis3=xax(xdom_left, "y3", True), yaxis3=yax(ydom_bot, "x3", True),
    xaxis4=xax(xdom_right, "y4", True), yaxis4=yax(ydom_bot, "x4", False),
    annotations=annotations,
)

fig.write_html("out.html")
